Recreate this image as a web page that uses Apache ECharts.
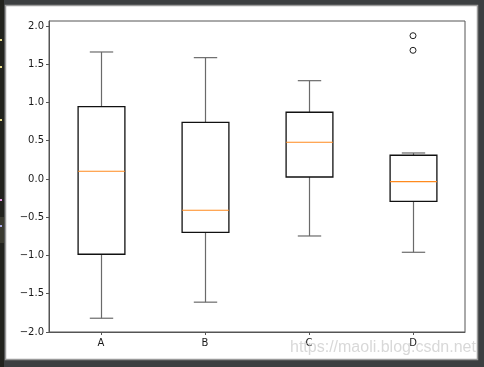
<!DOCTYPE html>
<html>
<head>
<meta charset="utf-8">
<script src="https://cdn.jsdelivr.net/npm/echarts@6/dist/echarts.min.js"></script>
<style>
html,body{margin:0;padding:0;background:#3c3f41;}
#c{width:484px;height:367px;}
</style>
</head>
<body>
<div id="c"></div>
<script>
// ---- data ----
var categories = ['A', 'B', 'C', 'D'];
var whiskerLow  = [-1.82, -1.61, -0.745, -0.958];
var q1          = [-0.984, -0.697, 0.026, -0.292];
var medians     = [0.101, -0.409, 0.480, -0.035];
var q3          = [0.945, 0.741, 0.872, 0.310];
var whiskerHigh = [1.660, 1.586, 1.285, 0.340];
var outliers    = [[3, 1.873], [3, 1.682]];  // [category index, value]
var yTicks = [-2.0, -1.5, -1.0, -0.5, 0.0, 0.5, 1.0, 1.5, 2.0];

var boxData = categories.map(function (c, i) {
  return [i, whiskerLow[i], q1[i], medians[i], q3[i], whiskerHigh[i]];
});

function fmt(v) {
  return (v < 0 ? '\u2212' : '') + Math.abs(v).toFixed(1);
}

var chart = echarts.init(document.getElementById('c'), null, {renderer: 'canvas'});

function renderBox(params, api) {
  var idx = api.value(0);
  var band = api.size([1, 0])[0];
  var bw = band * 0.45;
  var cw = bw / 2;
  var pLow = api.coord([idx, api.value(1)]);
  var pQ1 = api.coord([idx, api.value(2)]);
  var pMed = api.coord([idx, api.value(3)]);
  var pQ3 = api.coord([idx, api.value(4)]);
  var pHigh = api.coord([idx, api.value(5)]);
  var x = Math.round(pQ1[0]) + 0.5;
  var whiskStyle = {stroke: '#6a6a6a', lineWidth: 1.2, fill: null};
  return {
    type: 'group',
    children: [
      {type: 'line', shape: {x1: x, y1: pQ3[1], x2: x, y2: pHigh[1]}, style: whiskStyle},
      {type: 'line', shape: {x1: x, y1: pQ1[1], x2: x, y2: pLow[1]}, style: whiskStyle},
      {type: 'line', shape: {x1: x - cw / 2, y1: pHigh[1], x2: x + cw / 2, y2: pHigh[1]}, style: whiskStyle},
      {type: 'line', shape: {x1: x - cw / 2, y1: pLow[1], x2: x + cw / 2, y2: pLow[1]}, style: whiskStyle},
      {type: 'rect', shape: {x: x - bw / 2, y: pQ3[1], width: bw, height: pQ1[1] - pQ3[1]},
        style: {fill: null, stroke: '#111', lineWidth: 1.3}},
      {type: 'line', shape: {x1: x - bw / 2, y1: pMed[1], x2: x + bw / 2, y2: pMed[1]},
        style: {stroke: '#ff8a1e', lineWidth: 1.1}}
    ]
  };
}

var option = {
  backgroundColor: '#3c3f41',
  animation: false,
  graphic: [
    {type: 'rect', shape: {x: 0, y: 0, width: 4, height: 367}, style: {fill: '#22231e'}, silent: true, z: -10},
    {type: 'rect', shape: {x: 0, y: 217, width: 4, height: 26}, style: {fill: '#3a3a30'}, silent: true, z: -9},
    {type: 'rect', shape: {x: 0, y: 39, width: 2, height: 2}, style: {fill: '#e8dc8a'}, silent: true, z: -9},
    {type: 'rect', shape: {x: 0, y: 66, width: 2, height: 2}, style: {fill: '#e8dc8a'}, silent: true, z: -9},
    {type: 'rect', shape: {x: 0, y: 119, width: 2, height: 2}, style: {fill: '#e8dc8a'}, silent: true, z: -9},
    {type: 'rect', shape: {x: 0, y: 199, width: 2, height: 2}, style: {fill: '#e89ae8'}, silent: true, z: -9},
    {type: 'rect', shape: {x: 0, y: 225, width: 2, height: 2}, style: {fill: '#a8a8e8'}, silent: true, z: -9},
    {type: 'rect', shape: {x: 5.5, y: 5.5, width: 472, height: 354}, style: {fill: '#ffffff', stroke: '#9a9a9a', lineWidth: 1.5}, silent: true, z: -8},
    {type: 'text', left: 290, top: 340, z: 100, silent: true,
      style: {text: 'https://maoli.blog.csdn.net', fill: 'rgba(190,190,190,0.6)', font: '16px "Liberation Sans", Arial, sans-serif'}}
  ],
  grid: {left: 49, right: 19, top: 21, bottom: 35, show: true, borderColor: '#555', borderWidth: 1, backgroundColor: 'transparent'},
  xAxis: {
    type: 'category',
    data: categories,
    boundaryGap: true,
    axisLine: {show: true, onZero: false, lineStyle: {color: '#555', width: 1}},
    axisTick: {show: true, alignWithLabel: true, length: 3, lineStyle: {color: '#555'}},
    axisLabel: {color: '#1a1a1a', fontFamily: 'DejaVu Sans', fontSize: 10, margin: 6},
    splitLine: {show: false}
  },
  yAxis: {
    type: 'value',
    min: -2.0,
    max: 2.065,
    axisLine: {show: true, lineStyle: {color: '#555', width: 1}},
    axisTick: {show: true, length: 3, lineStyle: {color: '#555'}, customValues: yTicks},
    axisLabel: {color: '#1a1a1a', fontFamily: 'DejaVu Sans', fontSize: 10, margin: 5, customValues: yTicks, formatter: fmt},
    splitLine: {show: false}
  },
  series: [
    {
      type: 'custom',
      renderItem: renderBox,
      data: boxData,
      encode: {x: 0, y: [1, 2, 3, 4, 5]},
      z: 5
    },
    {
      type: 'scatter',
      data: outliers,
      symbol: 'circle',
      symbolSize: 6,
      itemStyle: {color: '#ffffff', borderColor: '#222', borderWidth: 1, opacity: 1},
      z: 6
    }
  ]
};
chart.setOption(option);
</script>
</body>
</html>
